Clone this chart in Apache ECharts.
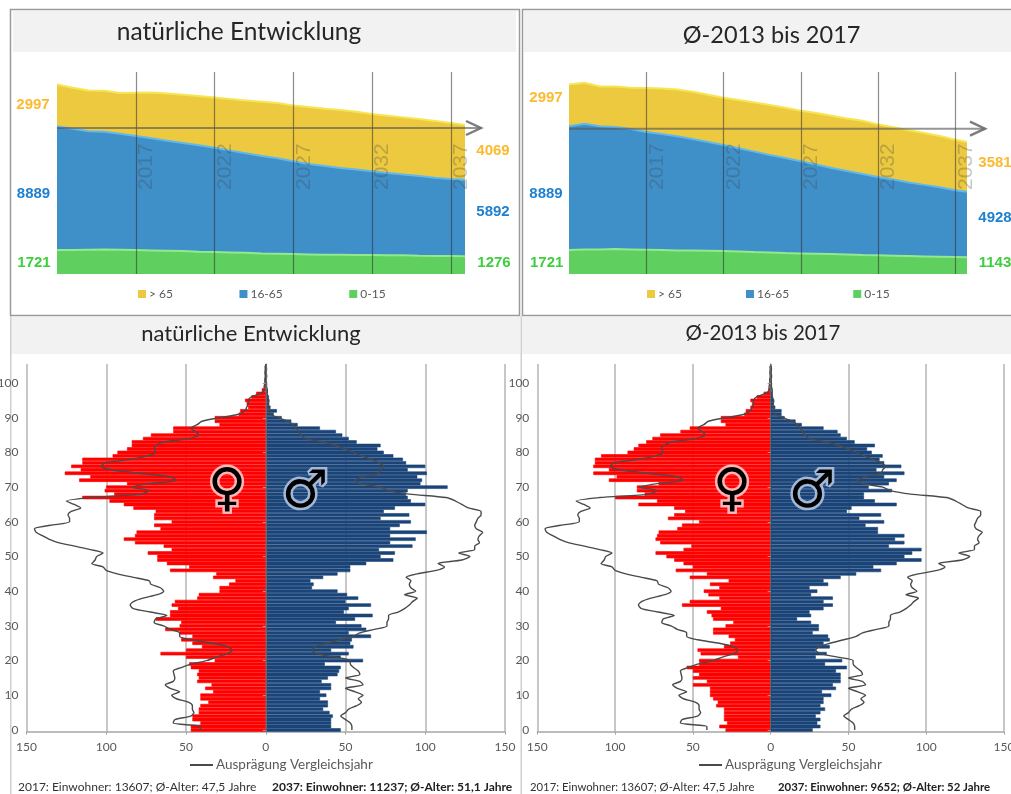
<!DOCTYPE html>
<html><head><meta charset="utf-8">
<style>html,body{margin:0;padding:0;background:#fff}#c{width:1011px;height:794px}</style>
<script src="https://cdn.jsdelivr.net/npm/echarts@6/dist/echarts.min.js"></script>
</head><body><div id="c"></div>
<script>
const years=[2012,2013,2014,2015,2016,2017,2018,2019,2020,2021,2022,2023,2024,2025,2026,2027,2028,2029,2030,2031,2032,2033,2034,2035,2036,2037];
const tickYears=[2017,2022,2027,2032,2037];
const ageBands=['> 65','16-65','0-15'];
const endLeft=2037.9, endRight=2037.76;
const youngA=[1721,1719,1743,1766,1743,1719,1695,1671,1647,1599,1575,1552,1528,1480,1456,1432,1408,1384,1384,1361,1361,1337,1337,1313,1300,1290,1276];
const midA=[8889,8713,8498,8450,8331,8187,8044,7901,7758,7638,7495,7304,7137,6994,6851,6660,6493,6373,6230,6135,6015,5920,5800,5729,5609,5538,5490];
const oldA=[2997,2936,2936,2936,2912,3103,3294,3390,3461,3533,3604,3700,3795,3891,3962,4010,4082,4106,4153,4153,4106,4106,4106,4082,4082,4010,3939];
const youngB=[1721,1766,1766,1790,1766,1743,1719,1695,1695,1671,1647,1623,1575,1552,1504,1480,1456,1432,1408,1361,1337,1313,1289,1265,1241,1217,1194];
const midB=[8889,9023,8832,8760,8641,8450,8331,8187,7996,7805,7615,7400,7209,6994,6827,6612,6397,6182,5991,5824,5633,5466,5275,5132,4989,4798,4702];
const oldB=[2997,2936,2864,2912,2960,3151,3270,3366,3390,3390,3390,3461,3533,3581,3604,3628,3700,3748,3771,3819,3771,3748,3748,3724,3676,3628,3581];
const ages=[];for(let a=0;a<=105;a++)ages.push(String(a));
const femaleA=[47,47,41,46,46,42,42,41,36,41,41,33,38,34,43,42,43,42,47,48,32,50,66,50,40,46,53,46,54,63,54,53,69,60,60,55,59,57,43,42,29,29,23,19,33,31,60,48,62,68,68,74,59,64,82,89,82,81,66,70,59,70,70,69,83,89,98,115,95,101,100,87,117,110,126,116,122,115,115,96,93,87,84,84,77,72,58,58,29,32,32,17,16,11,12,13,9,6,2.5,1,0,0,0,0,0,0];
const maleA=[47,41,41,41,42,40,36,39,39,34,38,34,41,41,35,39,45,46,47,37,61,47,52,41,55,53,54,66,52,63,60,44,56,67,49,52,66,50,58,51,45,29,30,28,36,45,53,53,63,80,72,81,71,92,78,94,78,101,78,84,91,72,90,74,81,100,91,89,88,89,114,97,98,95,101,89,100,88,86,80,74,70,72,57,52,48,44,34,20,16,10,5,7,3,2,2,2,1,1,0.5,0,0,0,0,0,0];
const femaleB=[29,33,28,30,30,30,30,35,34,37,39,39,39,50,41,50,46,50,54,46,46,21,45,47,30,26,23,27,37,37,29,24,37,38,41,32,57,52,33,40,43,33,39,27,52,41,61,50,56,62,67,74,56,51,71,74,73,72,60,57,46,66,62,55,62,85,73,100,81,86,86,72,104,99,114,104,114,113,113,109,92,88,85,80,76,71,58,52,29,32,32,17,16,13,12,13,9,4.5,1.5,0.5,0,0,0,0,0,0];
const maleB=[27,32,30,32,29,32,35,32,34,34,39,33,42,40,45,45,45,42,49,35,46,29,36,29,38,34,38,37,27,31,31,26,17,26,25,34,40,34,40,26,30,25,37,34,45,55,71,66,81,97,86,91,97,76,86,80,86,69,69,61,73,57,71,49,52,81,67,60,60,78,63,76,81,73,86,68,84,73,70,72,65,62,67,54,49,45,43,34,20,16,9,7,7,3,2,2,1.5,1,0.5,0.3,0,0,0,0,0,0];
const lineF=[41,41,58,57,47,45,46,46,48.5,56,59,54,60,63,58,57,57.5,58,53,47,37,31,24,21,24,33,47,54,54,60,64,70,69,62,72.5,83,85,83,77,68,64,66,72,73,83,93,100,102,109,107,106,102,110,120,130,136,140,144,145,135,123,123,124,122,116,120,125,110,78,73,84,73,56,60,79,97,103,101,85,74,69,70,69,64,48.5,42,44,47,43,40,29,17,13,12,11,11,9,3.5,1,1,0.5,0.6,0.3,0.5,0.3,0.4];
const lineM=[54,54,53,50,47,50,52,57,60,58,61,56,50,61,59,50,59,58,55,53,53,43,32,29,31,38,47,55,59,68,76,76,77,77,83,87,90,92,95,87,94,91,90,91,88,95,107,112,108,123,128,121,131,131,134,133,134,136,132,131,132,133,135,135,127,123,119,113,90,77,72,59,56,61,71,72,74,71,66,60,55,50,44,36,25,22,20.5,19,17,14,8,3,2,2,1.7,2,1,1,1,0.5,0.5,0.3,0.6,0.3,0.5,0.3];
const lineName='Ausprägung Vergleichsjahr';
const grey='#595959', font='Lato';

const neg=a=>a.map(v=>-v);
function topSeries(gi,yo,mi,ol,end){
  const xs=years.concat([end]);
  const pts=(...arrs)=>arrs[0].map((_,i)=>[xs[i],arrs.reduce((s,a)=>s+a[i],0)]);
  const mk=(name,d,c,e,extra)=>Object.assign({name,type:'line',xAxisIndex:gi,yAxisIndex:gi,symbol:'none',data:d,
    lineStyle:{color:e,width:2},itemStyle:{color:c},areaStyle:{color:c,opacity:1},z:2},extra||{});
  return [
    mk('> 65',pts(yo,mi,ol),'#edc93f','#f6e653'),
    mk('16-65',pts(yo,mi),'#3f8fc9','#63b8ea'),
    mk('0-15',pts(yo),'#5fd05f','#93e98f',{markLine:{silent:true,symbol:'none',animation:false,z:6,label:{show:false},
      lineStyle:{color:'rgba(45,45,45,0.55)',width:1.2,type:'solid'},data:tickYears.map(y=>({xAxis:y}))}})
  ];
}
function botSeries(gi,f,m){
  const common={xAxisIndex:gi,yAxisIndex:gi};
  const bar=(name,d,c)=>Object.assign({name,type:'bar',stack:'p'+gi,barCategoryGap:'0%',barWidth:'100%',data:d,itemStyle:{color:c,borderColor:c,borderWidth:0.6},z:2},common);
  const ln=(d)=>Object.assign({name:lineName,type:'line',symbol:'none',smooth:0.25,data:d,lineStyle:{color:'#4a4a4a',width:1.4},itemStyle:{color:'#4a4a4a'},z:4},common);
  return [bar('Frauen',neg(f),'#ff0000'),bar('Männer',m,'#1b4478'),ln(neg(lineF)),ln(lineM)];
}
const gb={outerBoundsMode:'none',containLabel:false};
const topGrids=[{left:57,top:72,width:408,height:202,...gb},{left:569,top:72,width:398,height:202,...gb}];
const botGrids=[{left:26.5,top:364,width:478.5,height:367.7,...gb},{left:537.3,top:364,width:466.7,height:367.7,...gb}];
const xAxes=[], yAxes=[];
[endLeft,endRight].forEach((end,i)=>{
  xAxes.push({gridIndex:i,type:'value',min:2012,max:end,z:5,splitLine:{show:false},axisLine:{show:false},axisTick:{show:false},
    axisLabel:{show:true,inside:true,rotate:90,margin:84,verticalAlign:'top',customValues:tickYears,formatter:v=>String(v),hideOverlap:false,
      color:'rgba(70,70,70,0.3)',fontFamily:'Liberation Sans',fontSize:21}});
  yAxes.push({gridIndex:i,type:'value',min:0,max:14500,show:false,splitLine:{show:false}});
});
[2,3].forEach(i=>{
  xAxes.push({gridIndex:i,type:'value',min:-150,max:150,interval:50,
    axisLine:{show:true,lineStyle:{color:'#a6a6a6',width:1.5}},axisTick:{show:true,inside:false,length:3,lineStyle:{color:'#a6a6a6'}},
    splitLine:{show:true,lineStyle:{color:'#b5b5b5',width:1.5}},
    axisLabel:{color:grey,fontFamily:font,fontSize:12,margin:9,formatter:v=>String(Math.abs(v))}});
  yAxes.push({gridIndex:i,type:'category',data:ages,z:5,
    axisLine:{show:true,onZero:true,lineStyle:{color:'#666'}},axisTick:{show:true,length:3,alignWithLabel:true,interval:(k)=>k%10===0,lineStyle:{color:'#999'}},
    axisLabel:{color:grey,fontFamily:font,fontSize:12,margin:8,interval:(k)=>k%10===0&&k<=100},splitLine:{show:false}});
});
const txt=(s,x,y,size,fill,weight,fam,align)=>({type:'text',x,y,z:20,silent:true,style:{text:s,fill,textAlign:align||'center',textVerticalAlign:'middle',
  font:(weight||'normal')+' '+size+'px "'+(fam||font)+'"'}});
const box=(x,y,w,h,fill,stroke,lw)=>({type:'rect',z:-1,silent:true,shape:{x,y,width:w,height:h},style:{fill:fill||'none',stroke:stroke||'none',lineWidth:lw||1}});
const arrow=(x0,x1,y)=>[
  {type:'polyline',z:15,silent:true,shape:{points:[[x0,y],[x1,y]]},style:{stroke:'rgba(85,85,85,0.62)',lineWidth:2,fill:'none'}},
  {type:'polyline',z:15,silent:true,shape:{points:[[x1-15,y-7],[x1,y],[x1-15,y+7]]},style:{stroke:'rgba(110,110,110,0.9)',lineWidth:2.4,fill:'none'}}];
const sym=(s,x,y,size,glow)=>[
  {type:'text',x,y,z:17,silent:true,style:{text:s,fill:glow,stroke:glow,lineWidth:5,textAlign:'center',textVerticalAlign:'middle',font:'bold '+size+'px "DejaVu Sans"'}},
  {type:'text',x,y,z:18,silent:true,style:{text:s,fill:'#000',textAlign:'center',textVerticalAlign:'middle',font:'bold '+size+'px "DejaVu Sans"'}}];
const Y='#fdb92f',B='#1f80cf',G='#3dcf3d',LS='Liberation Sans';
const graphic=[
  box(10.5,9.5,509,306,'#fff','#9a9a9a',1.5),
  box(522.5,9.5,490,306,'#fff','#9a9a9a',1.5),
  box(13,11,503,41,'#f2f2f2'),
  box(524,11,487,41,'#f2f2f2'),
  box(11,317,509,37,'#f2f2f2'),
  box(522,317,489,37,'#f2f2f2'),
  box(10,316,1.5,478,'#cfcfcf'),
  box(520.5,316,1.5,478,'#cfcfcf'),
  ...arrow(57,481,128),...arrow(569,985,128.7),
  txt('2997',33,105,15,Y,'bold',LS),txt('8889',33.5,194,15,B,'bold',LS),txt('1721',34,263,15,G,'bold',LS),
  txt('4069',493,151,15,Y,'bold',LS),txt('5892',493,212,15,B,'bold',LS),txt('1276',494,263,15,G,'bold',LS),
  txt('2997',546,98,15,Y,'bold',LS),txt('8889',546,194,15,B,'bold',LS),txt('1721',546.7,263,15,G,'bold',LS),
  txt('3581',995,163,15,Y,'bold',LS),txt('4928',995,218,15,B,'bold',LS),txt('1143',995,263,15,G,'bold',LS),
  txt('natürliche Entwicklung',239,32,24.5,'#262626'),txt('Ø-2013 bis 2017',771.6,35,23.5,'#262626'),
  txt('natürliche Entwicklung',251,334,22,'#262626'),txt('Ø-2013 bis 2017',763,333,20.5,'#262626'),
  ...sym('♀',227,491,52,'rgba(255,190,190,0.95)'),...sym('♂',305,493,52,'rgba(170,190,220,0.95)'),
  ...sym('♀',732,491,52,'rgba(255,190,190,0.95)'),...sym('♂',812,493,52,'rgba(170,190,220,0.95)'),
  txt('2017: Einwohner: 13607; Ø-Alter: 47,5 Jahre',18,787,12,'#333','normal',font,'left'),
  txt('2037: Einwohner: 11237; Ø-Alter: 51,1 Jahre',272,787,12,'#222','bold',font,'left'),
  txt('2017: Einwohner: 13607; Ø-Alter: 47,5 Jahre',530,787,11.3,'#333','normal',font,'left'),
  txt('2037: Einwohner: 9652; Ø-Alter: 52 Jahre',778,787,11.4,'#222','bold',font,'left')
];
const topLegend=(left,gap)=>({left,top:283,itemWidth:8,itemHeight:8,itemGap:gap,icon:'rect',data:ageBands,textStyle:{color:grey,fontFamily:font,fontSize:12,padding:[0,0,0,-2]}});
const botLegend=(left)=>({left,top:753,itemWidth:23,itemHeight:2,itemGap:0,data:[lineName],textStyle:{color:grey,fontFamily:font,fontSize:13.5,padding:[0,0,0,-2]}});
const chart=echarts.init(document.getElementById('c'),null,{renderer:'canvas'});
chart.setOption({
  animation:false,backgroundColor:'#fff',
  grid:[...topGrids,...botGrids],xAxis:xAxes,yAxis:yAxes,
  legend:[topLegend(133,66.5),topLegend(642,64),botLegend(184),botLegend(693)],
  graphic:{elements:graphic},
  series:[...topSeries(0,youngA,midA,oldA,endLeft),...topSeries(1,youngB,midB,oldB,endRight),...botSeries(2,femaleA,maleA),...botSeries(3,femaleB,maleB)]
});
</script></body></html>
